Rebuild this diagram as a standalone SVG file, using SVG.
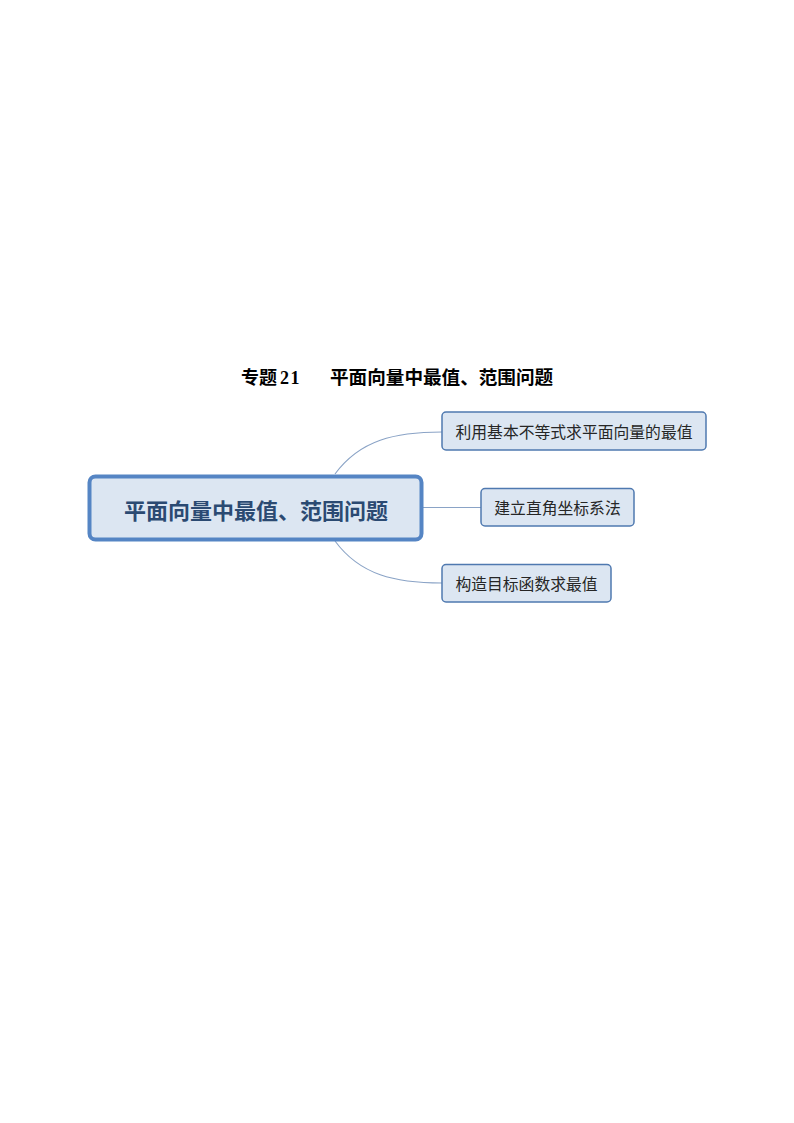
<svg xmlns="http://www.w3.org/2000/svg" width="794" height="1123" viewBox="0 0 794 1123">
<style>
.sub rect{fill:#dce6f2;stroke:#4f79b0;stroke-width:1.5}
.sub text{font-family:"Noto Sans CJK SC","Noto Sans",sans-serif;font-size:15.8px;fill:#262626;text-anchor:middle;dominant-baseline:central}
.conn path{fill:none;stroke:#8aa3c6;stroke-width:1.1}
</style>
<rect width="794" height="1123" fill="#ffffff"/>
<g id="title">
<text x="241" y="384" font-family="'Liberation Serif','Noto Sans CJK SC',serif" font-size="18" font-weight="bold" fill="#000">专题<tspan dx="3" font-family="'Liberation Serif',serif" letter-spacing="1.5">21</tspan></text>
<text x="330" y="384" font-family="'Liberation Serif','Noto Sans CJK SC',serif" font-size="18.6" font-weight="bold" fill="#000">平面向量中最值、范围问题</text>
</g>
<g class="conn" id="connectors">
<path d="M335,474 C360,440 395,432 442,432"/>
<path d="M422,507.5 L481,507.5"/>
<path d="M335,541 C360,575 395,583 442,583"/>
</g>
<g id="root">
<rect x="89.5" y="476.5" width="332" height="63" rx="6" fill="#dce6f2" stroke="#5585c4" stroke-width="4"/>
<text x="256" y="508.5" font-family="'Noto Sans CJK SC','Noto Sans',sans-serif" font-size="22" font-weight="bold" fill="#2b4a72" text-anchor="middle" dominant-baseline="central">平面向量中最值、范围问题</text>
</g>
<g id="n1" class="sub">
<rect x="442" y="412" width="264" height="38" rx="4"/>
<text x="574" y="431">利用基本不等式求平面向量的最值</text>
</g>
<g id="n2" class="sub">
<rect x="481" y="488.5" width="153" height="37.5" rx="4"/>
<text x="557.5" y="507">建立直角坐标系法</text>
</g>
<g id="n3" class="sub">
<rect x="442" y="564.5" width="169" height="37.5" rx="4"/>
<text x="526.5" y="583">构造目标函数求最值</text>
</g>
</svg>
